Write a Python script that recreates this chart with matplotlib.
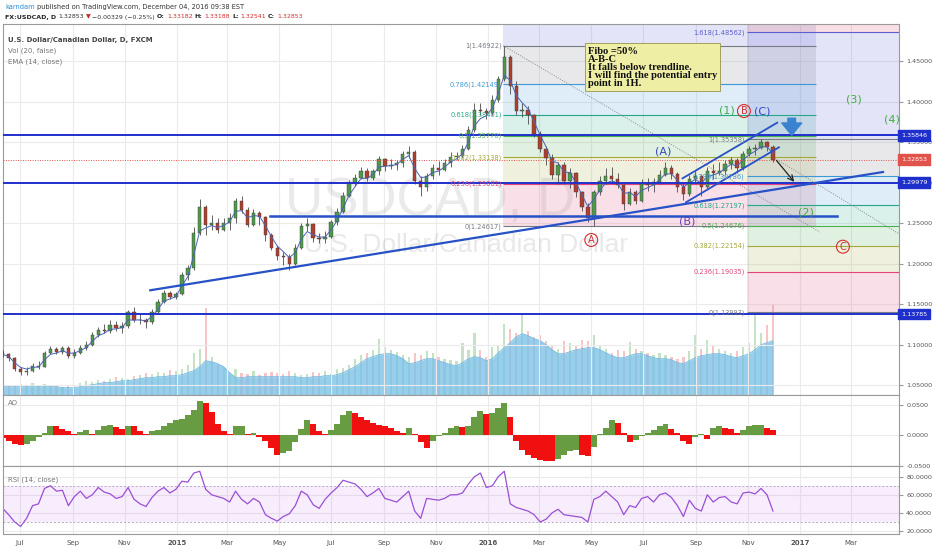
import numpy as np
import pandas as pd
import matplotlib
matplotlib.use("Agg")
import matplotlib.pyplot as plt
import matplotlib.dates as mdates
from matplotlib.ticker import FuncFormatter, FixedLocator

plt.rcParams['font.family'] = ['DejaVu Sans']

# weekly candles, first week starting 2014-06-11
first_open = 1.0900
close = [1.0880, 1.0830, 1.0700, 1.0660, 1.0680, 1.0740, 1.0730, 1.0900, 1.0950, 1.0910,
         1.0960, 1.0860, 1.0900, 1.0960, 1.1000, 1.1120, 1.1180, 1.1170, 1.1240, 1.1200,
         1.1230, 1.1400, 1.1300, 1.1310, 1.1280, 1.1400, 1.1530, 1.1640, 1.1590, 1.1620,
         1.1860, 1.1950, 1.2380, 1.2700, 1.2480, 1.2500, 1.2420, 1.2500, 1.2560, 1.2780,
         1.2660, 1.2480, 1.2620, 1.2580, 1.2350, 1.2200, 1.2100, 1.2080, 1.2000, 1.2200,
         1.2470, 1.2490, 1.2320, 1.2300, 1.2330, 1.2510, 1.2640, 1.2840, 1.3000, 1.3060,
         1.3150, 1.3060, 1.3140, 1.3290, 1.3210, 1.3220, 1.3240, 1.3350, 1.3380, 1.3020,
         1.2950, 1.3080, 1.3180, 1.3160, 1.3240, 1.3320, 1.3330, 1.3420, 1.3650, 1.3900,
         1.3880, 1.3860, 1.4020, 1.4280, 1.4550, 1.4200, 1.3890, 1.3900, 1.3830, 1.3600,
         1.3420, 1.3300, 1.3090, 1.3220, 1.3020, 1.3120, 1.2880, 1.2700, 1.2560, 1.2890,
         1.3020, 1.3080, 1.3050, 1.2970, 1.2740, 1.2890, 1.2780, 1.2980, 1.2970, 1.3010,
         1.3100, 1.3180, 1.3110, 1.2950, 1.2860, 1.3050, 1.3080, 1.2950, 1.3150, 1.3120,
         1.3150, 1.3230, 1.3280, 1.3180, 1.3360, 1.3410, 1.3430, 1.3500, 1.3440, 1.3285]
high = [1.0940, 1.0900, 1.0850, 1.0720, 1.0720, 1.0770, 1.0800, 1.0920, 1.0990, 1.0970,
        1.0990, 1.0980, 1.0950, 1.1000, 1.1040, 1.1160, 1.1220, 1.1260, 1.1300, 1.1290,
        1.1280, 1.1430, 1.1470, 1.1380, 1.1330, 1.1440, 1.1570, 1.1680, 1.1660, 1.1650,
        1.1900, 1.1990, 1.2450, 1.2800, 1.2720, 1.2600, 1.2560, 1.2560, 1.2620, 1.2810,
        1.2835, 1.2700, 1.2680, 1.2650, 1.2590, 1.2380, 1.2230, 1.2150, 1.2120, 1.2240,
        1.2500, 1.2560, 1.2500, 1.2380, 1.2400, 1.2540, 1.2690, 1.2880, 1.3030, 1.3110,
        1.3200, 1.3180, 1.3170, 1.3330, 1.3300, 1.3290, 1.3280, 1.3390, 1.3456, 1.3400,
        1.3080, 1.3120, 1.3230, 1.3270, 1.3290, 1.3380, 1.3380, 1.3460, 1.3700, 1.3990,
        1.3990, 1.3920, 1.4080, 1.4320, 1.4692, 1.4580, 1.4250, 1.3990, 1.3950, 1.3850,
        1.3640, 1.3450, 1.3350, 1.3260, 1.3250, 1.3180, 1.3130, 1.2900, 1.2750, 1.2910,
        1.3080, 1.3180, 1.3190, 1.3120, 1.2990, 1.2940, 1.2910, 1.3040, 1.3060, 1.3060,
        1.3160, 1.3250, 1.3220, 1.3130, 1.2990, 1.3090, 1.3150, 1.3100, 1.3190, 1.3230,
        1.3250, 1.3280, 1.3320, 1.3300, 1.3390, 1.3450, 1.3480, 1.3536, 1.3520, 1.3460]
low = [1.0850, 1.0800, 1.0670, 1.0620, 1.0630, 1.0660, 1.0700, 1.0720, 1.0880, 1.0880,
       1.0890, 1.0840, 1.0840, 1.0880, 1.0930, 1.0990, 1.1100, 1.1150, 1.1150, 1.1170,
       1.1150, 1.1210, 1.1280, 1.1250, 1.1200, 1.1250, 1.1390, 1.1510, 1.1560, 1.1560,
       1.1610, 1.1800, 1.1920, 1.2350, 1.2350, 1.2420, 1.2380, 1.2400, 1.2420, 1.2500,
       1.2620, 1.2450, 1.2470, 1.2480, 1.2280, 1.2170, 1.2050, 1.1980, 1.1920, 1.1980,
       1.2180, 1.2400, 1.2270, 1.2260, 1.2250, 1.2320, 1.2480, 1.2620, 1.2820, 1.2960,
       1.3040, 1.3020, 1.3030, 1.3100, 1.3150, 1.3170, 1.3160, 1.3200, 1.3300, 1.2990,
       1.2832, 1.2900, 1.3040, 1.3100, 1.3150, 1.3200, 1.3280, 1.3300, 1.3400, 1.3620,
       1.3830, 1.3790, 1.3840, 1.4000, 1.4250, 1.4100, 1.3830, 1.3810, 1.3720, 1.3560,
       1.3380, 1.3220, 1.3050, 1.2980, 1.2980, 1.2940, 1.2820, 1.2650, 1.2520, 1.2462,
       1.2850, 1.2980, 1.3000, 1.2940, 1.2660, 1.2730, 1.2740, 1.2760, 1.2900, 1.2880,
       1.2990, 1.3080, 1.3050, 1.2880, 1.2790, 1.2840, 1.3010, 1.2830, 1.2930, 1.3040,
       1.3090, 1.3100, 1.3170, 1.3120, 1.3160, 1.3330, 1.3340, 1.3420, 1.3390, 1.3254]
volume = [12, 10, 9, 11, 10, 12, 9, 11, 10, 9,
          8, 10, 9, 12, 14, 13, 15, 14, 16, 18,
          17, 16, 19, 20, 22, 21, 23, 22, 25, 24,
          26, 30, 42, 46, 87, 38, 30, 27, 20, 26,
          22, 21, 24, 20, 22, 23, 22, 21, 24, 22,
          20, 21, 23, 22, 24, 21, 26, 27, 30, 36,
          40, 42, 45, 56, 48, 45, 43, 40, 38, 42,
          40, 44, 42, 38, 36, 35, 34, 52, 45, 62,
          45, 38, 48, 50, 71, 66, 62, 81, 64, 58,
          60, 54, 50, 46, 54, 52, 50, 55, 54, 60,
          50, 46, 42, 45, 44, 53, 46, 44, 42, 40,
          42, 40, 38, 36, 38, 44, 60, 46, 55, 50,
          46, 44, 42, 44, 48, 52, 81, 62, 70, 91]
volume_ma = [8, 8, 8, 8, 8, 8, 8, 8, 8, 8,
             7, 7, 7, 8, 9, 10, 11, 12, 12, 13,
             14, 14, 15, 16, 17, 17, 18, 18, 19, 19,
             20, 22, 24, 28, 34, 33, 31, 28, 22, 17,
             17, 18, 18, 18, 18, 18, 18, 18, 18, 18,
             17, 17, 18, 18, 19, 19, 20, 22, 25, 28,
             32, 36, 38, 40, 41, 41, 39, 36, 31, 32,
             34, 36, 36, 34, 32, 30, 29, 32, 36, 38,
             37, 34, 36, 42, 47, 52, 58, 61, 59, 56,
             54, 50, 45, 41, 41, 43, 45, 46, 47, 47,
             45, 42, 39, 37, 37, 39, 41, 41, 39, 37,
             36, 36, 35, 32, 31, 34, 37, 39, 40, 41,
             41, 40, 38, 37, 39, 41, 45, 50, 52, 54]
ao = [-0.005, -0.010, -0.014, -0.016, -0.015, -0.010, -0.003, 0.004, 0.015, 0.014,
      0.010, 0.007, 0.001, 0.005, 0.008, 0.002, 0.008, 0.014, 0.016, 0.013,
      0.010, 0.014, 0.014, 0.007, 0.001, 0.007, 0.009, 0.015, 0.020, 0.024,
      0.026, 0.032, 0.041, 0.055, 0.052, 0.038, 0.018, 0.006, 0.002, 0.014,
      0.015, 0.002, 0.004, -0.003, -0.009, -0.022, -0.033, -0.030, -0.026, -0.012,
      0.010, 0.025, 0.018, 0.007, 0.001, 0.008, 0.018, 0.032, 0.040, 0.036,
      0.030, 0.025, 0.020, 0.016, 0.014, 0.011, 0.006, 0.004, 0.011, 0.002,
      -0.012, -0.021, -0.010, -0.002, 0.004, 0.012, 0.015, 0.013, 0.015, 0.030,
      0.040, 0.035, 0.036, 0.045, 0.052, 0.030, -0.010, -0.025, -0.032, -0.038,
      -0.041, -0.042, -0.043, -0.040, -0.032, -0.027, -0.025, -0.033, -0.035, -0.020,
      0.002, 0.012, 0.024, 0.020, 0.004, -0.012, -0.008, -0.002, 0.004, 0.008,
      0.014, 0.018, 0.010, 0.003, -0.010, -0.014, -0.004, 0.001, -0.006, 0.012,
      0.014, 0.011, 0.010, 0.003, 0.008, 0.015, 0.016, 0.017, 0.012, 0.008]
rsi = [45, 38, 30, 25, 34, 48, 50, 67, 70, 64,
       65, 48, 58, 64, 56, 60, 68, 63, 61, 56,
       58, 68, 55, 50, 47, 57, 64, 68, 62, 66,
       75, 74, 84, 86, 66, 60, 58, 56, 52, 64,
       55, 50, 56, 52, 38, 34, 31, 36, 39, 48,
       64, 60, 49, 45, 55, 62, 68, 76, 74, 72,
       66, 58, 62, 67, 56, 54, 52, 58, 64, 42,
       34, 56, 55, 54, 56, 60, 60, 62, 72, 80,
       84, 68, 70, 80, 86, 50, 46, 44, 42, 38,
       30, 33, 40, 44, 38, 37, 36, 35, 30, 55,
       58, 64, 58, 52, 38, 48, 46, 56, 58, 52,
       60, 62, 57, 48, 36, 54, 45, 42, 60, 52,
       57, 58, 52, 50, 62, 63, 61, 67, 60, 42]

# drawing tools on the chart
fib_levels = [0, 0.236, 0.382, 0.5, 0.618, 0.786, 1, 1.618, 2.618]
fib_colors = ['#787b86', '#e0457b', '#a5a83a', '#4caf50', '#26a68a', '#3f98d6',
              '#787b86', '#5b5fd0', '#e0455a']
hlines_blue = [1.35846, 1.29979, 1.13785]
last_price = 1.32853

dates = pd.date_range('2014-06-11', periods=len(close), freq='7D')
xd = mdates.date2num(dates)
opens = np.array([first_open] + close[:-1])
close = np.array(close)
high = np.array(high)
low = np.array(low)
ema = pd.Series(close).ewm(span=3, adjust=False).mean()

def D(s):
    return mdates.datestr2num(s)

x_left = D('2014-06-11') + 0.7
x_right = D('2014-06-11') + 1051.1

W, H = 932, 550
def rect(top, bottom, left=3.3, right=899.3):
    return [left / W, 1 - bottom / H, (right - left) / W, (bottom - top) / H]

fig = plt.figure(figsize=(W / 100, H / 100), dpi=100)
ax_v = fig.add_axes(rect(24, 394.7))
ax = fig.add_axes(rect(24, 394.7))
ax_ao = fig.add_axes(rect(394.7, 466))
ax_rsi = fig.add_axes(rect(466, 534.3))

GRID = '#ebebeb'
SPINE = '#9a9a9a'
TICK = '#555555'

# ---- volume (behind price) ----
ax_v.set_xlim(x_left, x_right)
ax_v.set_ylim(0, 370.7)
up = close >= opens
vcol = np.where(up, '#8cc78c', '#ef8f8f')
ax_v.bar(xd, volume, width=2.6, color=vcol, alpha=0.5, lw=0)
ax_v.fill_between(xd, 0, volume_ma, color='#7dc2e6', alpha=0.8, lw=0)
ax_v.plot(xd, volume_ma, color='#6fb8e2', lw=0.6)
ax_v.axis('off')

# ---- main price panel ----
ax.patch.set_alpha(0)
ax.set_xlim(x_left, x_right)
ax.set_ylim(1.03827, 1.49593)

def draw_fib(x0, x1, p0, p1, label_x):
    prices = [p0 + l * (p1 - p0) for l in fib_levels]
    for k in range(1, len(fib_levels)):
        ax.fill_between([x0, x1], prices[k - 1], prices[k], color=fib_colors[k],
                        alpha=0.17, lw=0, zorder=1)
    for l, p, c in zip(fib_levels, prices, fib_colors):
        if p < 1.49:
            ax.hlines(p, x0, x1, color=c, lw=0.8, zorder=1.5)
            ax.text(label_x, p, f'{l:g}({p:.5f})', ha='right', va='center',
                    color=c, fontsize=4.8, zorder=6)

draw_fib(D('2016-01-19'), D('2017-01-19'), 1.24617, 1.46922, D('2016-01-17'))
draw_fib(D('2016-10-30'), D('2017-05-20'), 1.13993, 1.35358, D('2016-10-28'))

# candles
ax.vlines(xd, low, high, color='#4a4a4a', lw=0.6, zorder=3)
body_col = np.where(up, '#4f9a4a', '#b0402e')
ax.bar(xd, np.abs(close - opens), bottom=np.minimum(close, opens), width=4,
       color=body_col, edgecolor='#3a3a3a', lw=0.3, zorder=3.5)
ax.plot(xd, ema, color='#4b62b3', lw=0.7, zorder=4)

# horizontal levels
for p in hlines_blue:
    ax.axhline(p, color='#1f2fcc', lw=1.4, zorder=5)
ax.axhline(last_price, color='#e0524a', lw=0.7, ls=(0, (1, 1.5)), zorder=4)

# trend lines / channel
ax.plot([D('2014-12-01'), D('2017-04-08')], [1.1672, 1.3132], color='#2751c6', lw=1.6, zorder=5)
ax.plot([D('2015-04-20'), D('2017-02-13')], [1.2585, 1.2585], color='#2751c6', lw=1.8, zorder=5)
ax.plot([D('2016-08-16'), D('2016-12-05')], [1.3054, 1.3741], color='#2751c6', lw=1.3, zorder=5)
ax.plot([D('2016-08-20'), D('2016-12-07')], [1.2758, 1.3437], color='#2751c6', lw=1.3, zorder=5)
ax.plot([D('2016-01-19'), D('2017-01-24')], [1.4692, 1.2390], color='#8a8a8a', lw=0.7,
        ls=(0, (1, 1.5)), zorder=4)
ax.plot([D('2016-12-02'), D('2017-04-27')], [1.3301, 1.2367], color='#8a8a8a', lw=0.7,
        ls=(0, (1, 1.5)), zorder=4)
ax.annotate('', xy=(D('2016-12-27'), 1.2984), xytext=(D('2016-12-02'), 1.3301),
            arrowprops=dict(arrowstyle='->', color='#222222', lw=0.9), zorder=6)
ax.annotate('', xy=(D('2016-12-22'), 1.3552), xytext=(D('2016-12-22'), 1.3830),
            arrowprops=dict(arrowstyle='simple,head_width=1.3,head_length=0.8,tail_width=0.5',
                            color='#3b82d0', mutation_scale=11), zorder=7)

# wave labels
wave_green = '#3fae3f'
for txt, d, p, c in [('(1)', '2016-10-07', 1.3889, wave_green),
                     ('(2)', '2017-01-08', 1.2630, wave_green),
                     ('(3)', '2017-03-05', 1.4033, wave_green),
                     ('(4)', '2017-04-18', 1.3783, wave_green),
                     ('(A)', '2016-07-24', 1.3383, '#3347c0'),
                     ('(B)', '2016-08-22', 1.2519, '#6a3fb5'),
                     ('(C)', '2016-11-17', 1.3885, '#3347c0')]:
    ax.text(D(d), p, txt, color=c, fontsize=8, ha='center', va='center', zorder=7)
for txt, d, p in [('A', '2016-05-01', 1.2293), ('B', '2016-10-27', 1.3885),
                  ('C', '2017-02-20', 1.2210)]:
    ax.text(D(d), p, txt, color='#d32f2f', fontsize=7, ha='center', va='center', zorder=7,
            bbox=dict(boxstyle='circle,pad=0.15', fc='none', ec='#d32f2f', lw=0.8))

ax.text(D('2016-04-27'), 1.4680,
        'Fibo =50%\nA-B-C\nIt falls below trendline.\nI will find the potential entry\npoint in 1H.',
        family='Liberation Serif', weight='bold', fontsize=7.6, linespacing=0.86,
        ha='left', va='top', color='#111111', zorder=8,
        bbox=dict(boxstyle='square,pad=0.3', fc='#eeeea4', ec='#a0a060', lw=0.7))

# watermark
ax.text(0.476, 0.485, 'USDCAD, D', transform=ax.transAxes, ha='center', va='baseline',
        fontsize=38, color='#9a9a9a', alpha=0.2, family='Liberation Sans', zorder=2)
ax.text(0.516, 0.386, 'U.S. Dollar/Canadian Dollar', transform=ax.transAxes, ha='center',
        va='baseline', fontsize=19, color='#9a9a9a', alpha=0.22, family='Liberation Sans', zorder=2)

# legend lines
ax.text(0.0055, 0.965, 'U.S. Dollar/Canadian Dollar, D, FXCM', transform=ax.transAxes,
        fontsize=5, color='#444444', va='top', weight='bold')
ax.text(0.0055, 0.937, 'Vol (20, false)', transform=ax.transAxes, fontsize=5, color='#777777', va='top')
ax.text(0.0055, 0.907, 'EMA (14, close)', transform=ax.transAxes, fontsize=5, color='#777777', va='top')

# price axis
ax.yaxis.tick_right()
ax.yaxis.set_major_locator(FixedLocator(np.arange(1.05, 1.451, 0.05)))
ax.yaxis.set_major_formatter(FuncFormatter(lambda v, p: f'{v:.5f}'))
ax.tick_params(axis='y', labelsize=4.6, colors=TICK, length=3, pad=2, color=SPINE)
for p, c in [(1.35846, '#1f2fcc'), (1.29979, '#1f2fcc'), (1.13785, '#1f2fcc'), (last_price, '#e0524a')]:
    ax.text(1.002, p, f'{p:.5f}', transform=ax.get_yaxis_transform(), fontsize=4.6,
            color='white', ha='left', va='center', clip_on=False, zorder=10,
            bbox=dict(boxstyle='square,pad=0.45', fc=c, ec=c))

# ---- AO panel ----
ax_ao.set_xlim(x_left, x_right)
ax_ao.set_ylim(-0.0508, 0.0661)
ao_arr = np.array(ao)
rising = np.concatenate([[False], np.diff(ao_arr) > 0])
ax_ao.bar(xd, ao_arr, width=7, color=np.where(rising, '#689c42', '#f01010'), lw=0)
ax_ao.yaxis.tick_right()
ax_ao.yaxis.set_major_locator(FixedLocator([-0.05, 0, 0.05]))
ax_ao.yaxis.set_major_formatter(FuncFormatter(lambda v, p: f'{v:.4f}'))
ax_ao.tick_params(axis='y', labelsize=4.6, colors=TICK, length=3, pad=2, color=SPINE)
ax_ao.text(0.0055, 0.86, 'AO', transform=ax_ao.transAxes, fontsize=5, color='#777777')

# ---- RSI panel ----
ax_rsi.set_xlim(x_left, x_right)
ax_rsi.set_ylim(16.35, 91.8)
ax_rsi.axhspan(30, 70, color='#a020f0', alpha=0.08, lw=0)
for lvl in (30, 70):
    ax_rsi.axhline(lvl, color='#b8a8c8', lw=0.7, ls=(0, (2, 2)))
ax_rsi.plot(xd, rsi, color='#9b4fd4', lw=0.9)
ax_rsi.yaxis.tick_right()
ax_rsi.yaxis.set_major_locator(FixedLocator([20, 40, 60, 80]))
ax_rsi.yaxis.set_major_formatter(FuncFormatter(lambda v, p: f'{v:.4f}'))
ax_rsi.tick_params(axis='y', labelsize=4.6, colors=TICK, length=3, pad=2, color=SPINE)
ax_rsi.text(0.0055, 0.78, 'RSI (14, close)', transform=ax_rsi.transAxes, fontsize=5, color='#777777')

# shared time axis
month_loc = mdates.MonthLocator(bymonth=[1, 3, 5, 7, 9, 11])
def date_fmt(v, pos):
    d = mdates.num2date(v)
    return str(d.year) if d.month == 1 else d.strftime('%b')

for a in (ax, ax_ao, ax_rsi):
    a.xaxis.set_major_locator(month_loc)
    a.grid(True, color=GRID, lw=0.8)
    a.set_axisbelow(True)
    for s in a.spines.values():
        s.set_color(SPINE)
        s.set_linewidth(0.8)
for a in (ax, ax_ao):
    a.tick_params(axis='x', length=0, labelbottom=False)
ax_rsi.xaxis.set_major_formatter(FuncFormatter(date_fmt))
ax_rsi.tick_params(axis='x', length=0, labelsize=5, colors=TICK, pad=4)
for lab in ax_rsi.get_xticklabels():
    if lab.get_text().isdigit():
        lab.set_fontweight('bold')

# header, laid out piece by piece so nothing overlaps
renderer = fig.canvas.get_renderer()

def text_run(y, pieces, size, gap):
    x = 5
    for t, c, w in pieces:
        txt = fig.text(x / W, 1 - y / H, t, fontsize=size, color=c, weight=w, va='center')
        x = txt.get_window_extent(renderer).x1 + gap

text_run(7, [('karndam', '#2a8ad6', 'normal'),
             ('published on TradingView.com, December 04, 2016 09:38 EST', '#333333', 'normal')],
         4.8, 2.5)
text_run(17, [('FX:USDCAD, D', '#222222', 'bold'), ('1.32853', '#333333', 'normal'),
              ('\u25bc', '#c62828', 'normal'), ('\u22120.00329 (\u22120.25%)', '#333333', 'normal'),
              ('O:', '#222222', 'bold'), ('1.33182', '#d32f2f', 'normal'),
              ('H:', '#222222', 'bold'), ('1.33188', '#d32f2f', 'normal'),
              ('L:', '#222222', 'bold'), ('1.32541', '#d32f2f', 'normal'),
              ('C:', '#222222', 'bold'), ('1.32853', '#d32f2f', 'normal')], 4.5, 2)

fig.savefig('out.png', dpi=100)
